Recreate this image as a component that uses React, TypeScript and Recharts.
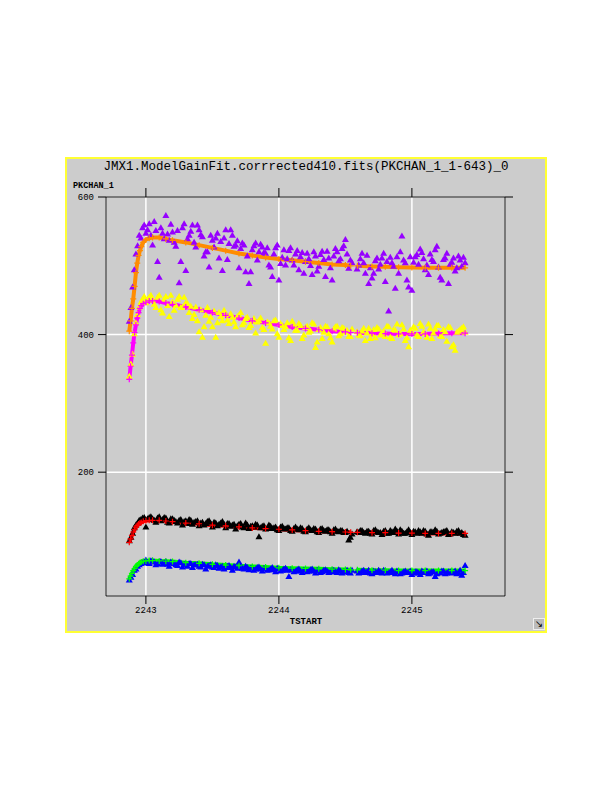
import React from 'react';
import {
  ComposedChart,
  Scatter,
  Line,
  XAxis,
  YAxis,
  CartesianGrid,
} from 'recharts';

// sample times of the measured points, first pass (gap at 2244.575)
const scatterT = [
  2242.875, 2242.9, 2242.925, 2242.95, 2242.975, 2243.0, 2243.025, 2243.05, 2243.075, 2243.1,
  2243.125, 2243.15, 2243.175, 2243.2, 2243.225, 2243.25, 2243.275, 2243.3, 2243.325, 2243.35,
  2243.375, 2243.4, 2243.425, 2243.45, 2243.475, 2243.5, 2243.525, 2243.55, 2243.575, 2243.6,
  2243.625, 2243.65, 2243.675, 2243.7, 2243.725, 2243.75, 2243.775, 2243.8, 2243.825, 2243.85,
  2243.875, 2243.9, 2243.925, 2243.95, 2243.975, 2244.0, 2244.025, 2244.05, 2244.075, 2244.1,
  2244.125, 2244.15, 2244.175, 2244.2, 2244.225, 2244.25, 2244.275, 2244.3, 2244.325, 2244.35,
  2244.375, 2244.4, 2244.425, 2244.45, 2244.475, 2244.5, 2244.525, 2244.55, 2244.6, 2244.625,
  2244.65, 2244.675, 2244.7, 2244.725, 2244.75, 2244.775, 2244.8, 2244.825, 2244.85, 2244.875,
  2244.9, 2244.925, 2244.95, 2244.975, 2245.0, 2245.025, 2245.05, 2245.075, 2245.1, 2245.125,
  2245.15, 2245.175, 2245.2, 2245.225, 2245.25, 2245.275, 2245.3, 2245.325, 2245.35, 2245.375,
  2245.4,
];

// second pass, in between (gap at 2244.5625)
const scatterT2 = [
  2242.8875, 2242.9125, 2242.9375, 2242.9625, 2242.9875, 2243.0125, 2243.0375, 2243.0625, 2243.0875, 2243.1125,
  2243.1375, 2243.1625, 2243.1875, 2243.2125, 2243.2375, 2243.2625, 2243.2875, 2243.3125, 2243.3375, 2243.3625,
  2243.3875, 2243.4125, 2243.4375, 2243.4625, 2243.4875, 2243.5125, 2243.5375, 2243.5625, 2243.5875, 2243.6125,
  2243.6375, 2243.6625, 2243.6875, 2243.7125, 2243.7375, 2243.7625, 2243.7875, 2243.8125, 2243.8375, 2243.8625,
  2243.8875, 2243.9125, 2243.9375, 2243.9625, 2243.9875, 2244.0125, 2244.0375, 2244.0625, 2244.0875, 2244.1125,
  2244.1375, 2244.1625, 2244.1875, 2244.2125, 2244.2375, 2244.2625, 2244.2875, 2244.3125, 2244.3375, 2244.3625,
  2244.3875, 2244.4125, 2244.4375, 2244.4625, 2244.4875, 2244.5125, 2244.5375, 2244.5875, 2244.6125, 2244.6375,
  2244.6625, 2244.6875, 2244.7125, 2244.7375, 2244.7625, 2244.7875, 2244.8125, 2244.8375, 2244.8625, 2244.8875,
  2244.9125, 2244.9375, 2244.9625, 2244.9875, 2245.0125, 2245.0375, 2245.0625, 2245.0875, 2245.1125, 2245.1375,
  2245.1625, 2245.1875, 2245.2125, 2245.2375, 2245.2625, 2245.2875, 2245.3125, 2245.3375, 2245.3625, 2245.3875,
];

const purple = [
  420, 470, 518, 545, 556, 548, 562, 531, 552, 484,
  548, 574, 538, 550, 529, 476, 556, 494, 545, 560,
  528, 553, 543, 521, 499, 538, 541, 512, 494, 553,
  533, 545, 531, 498, 534, 492, 475, 524, 534, 521,
  528, 519, 502, 485, 527, 480, 513, 502, 523, 509,
  518, 495, 520, 507, 511, 488, 515, 500, 522, 485,
  512, 480, 526, 508, 526, 539, 497, 505, 502, 519,
  490, 475, 483, 508, 496, 512, 478, 435, 505, 468,
  490, 544, 505, 470, 465, 514, 503, 520, 495, 488,
  510, 524, 499, 480, 512, 475, 506, 493, 515, 500,
  505,
];
const purple2 = [
  440, 495, 530, 541, 560, 553, 545, 565, 507, 556,
  540, 547, 561, 535, 552, 507, 562, 540, 551, 535,
  560, 546, 515, 521, 545, 528, 548, 536, 541, 510,
  553, 529, 537, 526, 531, 515, 492, 530, 509, 532,
  520, 527, 499, 518, 531, 504, 524, 511, 527, 502,
  523, 514, 490, 519, 501, 521, 493, 517, 510, 522,
  498, 515, 521, 511, 530, 518, 509, 496, 511, 505,
  516, 498, 490, 512, 503, 519, 507, 513, 500, 514,
  521, 509, 480, 514, 506, 517, 525, 511, 502, 518,
  507, 529, 484, 510, 519, 503, 512, 498, 509, 513,
];

const yellow = [
  340, 372, 418, 441, 452, 447, 455, 451, 440, 458,
  432, 456, 427, 448, 443, 456, 441, 447, 433, 424,
  441, 405, 397, 429, 420, 412, 397, 433, 421, 430,
  417, 426, 412, 429, 415, 424, 411, 420, 403, 421,
  411, 388, 418, 409, 422, 397, 414, 412, 396, 420,
  407, 417, 395, 411, 404, 418, 382, 408, 395, 413,
  402, 390, 412, 399, 411, 404, 398, 409, 400, 406,
  392, 410, 401, 396, 409, 403, 398, 412, 395, 407,
  400, 415, 392, 383, 404, 410, 398, 413, 402, 416,
  395, 409, 414, 398, 405, 412, 383, 378, 406, 410,
  404,
];
const yellow2 = [
  358, 402, 430, 448, 456, 452, 458, 445, 455, 437,
  452, 443, 458, 436, 452, 440, 455, 446, 442, 430,
  421, 437, 412, 440, 426, 435, 418, 427, 436, 422,
  431, 419, 427, 433, 418, 426, 414, 424, 419, 425,
  408, 419, 413, 421, 402, 417, 408, 418, 392, 415,
  407, 414, 400, 413, 406, 416, 390, 411, 404, 412,
  396, 409, 413, 402, 410, 407, 398, 405, 399, 410,
  403, 395, 408, 411, 400, 406, 413, 397, 408, 416,
  402, 409, 396, 407, 412, 400, 417, 405, 397, 410,
  403, 414, 399, 408, 391, 411, 386, 404, 408, 412,
];

const black = [
  101, 112, 124, 131, 134, 121, 135, 133, 128, 136,
  132, 134, 127, 133, 129, 131, 124, 130, 132, 125,
  129, 123, 128, 126, 130, 121, 127, 125, 129, 120,
  126, 124, 118, 125, 121, 127, 119, 123, 125, 107,
  122, 118, 124, 119, 121, 116, 122, 118, 120, 115,
  121, 117, 119, 114, 120, 116, 118, 113, 119, 115,
  117, 112, 118, 114, 116, 113, 102, 111, 113, 116,
  112, 115, 111, 117, 113, 110, 116, 112, 114, 118,
  111, 115, 112, 117, 110, 114, 116, 112, 115, 109,
  114, 117, 111, 113, 115, 110, 114, 112, 116, 113,
  109,
];
const black2 = [
  106, 120, 127, 132, 135, 133, 136, 131, 134, 130,
  135, 128, 133, 131, 127, 132, 129, 126, 131, 128,
  130, 127, 124, 129, 126, 128, 123, 127, 125, 126,
  122, 125, 123, 126, 120, 124, 122, 121, 124, 120,
  123, 119, 122, 120, 117, 121, 119, 120, 116, 119,
  118, 120, 115, 118, 117, 119, 114, 118, 116, 117,
  114, 117, 115, 116, 113, 115, 106, 114, 116, 113,
  115, 112, 116, 114, 113, 115, 112, 116, 113, 115,
  117, 112, 114, 113, 115, 112, 114, 116, 111, 114,
  113, 115, 112, 114, 116, 111, 113, 115, 112, 110,
];

const blue = [
  44, 52, 60, 66, 69, 73, 68, 72, 66, 70,
  67, 71, 64, 69, 66, 70, 63, 67, 68, 62,
  66, 64, 67, 60, 65, 63, 66, 61, 64, 62,
  65, 58, 63, 70, 61, 64, 59, 62, 60, 63,
  57, 61, 59, 62, 56, 60, 58, 61, 49, 59,
  57, 60, 55, 59, 57, 60, 54, 58, 56, 59,
  55, 58, 56, 59, 54, 57, 55, 58, 54, 57,
  55, 58, 53, 56, 58, 54, 57, 55, 58, 53,
  56, 54, 57, 55, 52, 56, 54, 57, 55, 53,
  56, 49, 54, 57, 53, 56, 54, 57, 55, 51,
  65,
];
const blue2 = [
  48, 58, 64, 68, 70, 69, 72, 70, 68, 71,
  69, 67, 70, 68, 65, 69, 67, 64, 68, 66,
  67, 63, 66, 64, 66, 62, 65, 63, 60, 64,
  62, 64, 61, 63, 60, 62, 61, 58, 62, 60,
  61, 58, 60, 59, 61, 57, 60, 58, 59, 56,
  59, 57, 58, 56, 59, 57, 58, 55, 58, 57,
  56, 58, 55, 57, 56, 58, 54, 57, 55, 58,
  56, 54, 57, 55, 56, 58, 54, 56, 55, 57,
  53, 56, 55, 57, 54, 56, 52, 55, 57, 54,
  56, 53, 55, 57, 54, 56, 55, 53, 58, 55,
];

// model gain fit curves (null = gap in the data)
const fitT = [
  2242.875, 2242.885, 2242.895, 2242.905, 2242.915, 2242.925, 2242.935, 2242.945, 2242.955, 2242.965,
  2242.98, 2243.0, 2243.025, 2243.05, 2243.1, 2243.15, 2243.2, 2243.3, 2243.4, 2243.5,
  2243.6, 2243.7, 2243.8, 2243.9, 2244.0, 2244.1, 2244.2, 2244.3, 2244.4, 2244.5,
  2244.54, 2244.565, 2244.59, 2244.7, 2244.8, 2244.9, 2245.0, 2245.1, 2245.2, 2245.3,
  2245.4,
];

const orangeFit = [
  405, 420, 438, 452, 470, 490, 504, 515, 522, 528,
  534, 538, 540, 541, 541, 539, 537, 534, 530, 526,
  522, 518, 515, 512, 510, 508, 506, 504, 502, 501,
  500, null, 500, 499, 498.5, 498, 497.5, 497, 497, 497,
  497,
];

const magentaFit = [
  335, 354, 370, 388, 403, 414, 424, 432, 438, 442,
  445, 447, 449, 449, 448, 446, 444, 440, 436, 432,
  428, 424, 420, 417, 414, 411, 409, 407, 405, 404,
  403, null, 402.5, 402, 401.5, 401, 401, 401, 401.5, 402,
  402,
];

const redFit = [
  98, 103, 108, 113, 117, 120, 122.5, 124.5, 126, 127,
  128.5, 129.5, 130, 130, 130, 129, 128, 126, 125, 123,
  122, 120.5, 119, 118, 117, 116, 115, 114, 113.5, 113,
  112.5, null, 112.5, 112, 112, 111.5, 111.5, 111, 111, 111,
  111,
];

const greenFit = [
  45, 49, 53, 57, 60, 63, 65, 67, 68.5, 69.5,
  70.5, 71, 71.5, 71.5, 71, 70.5, 70, 68.5, 67.5, 66,
  65, 64, 63, 62, 61, 60.5, 60, 59.5, 59, 58.5,
  58, null, 58, 57.5, 57.5, 57, 57, 57, 57, 57,
  57,
];

const xTicks = [2243, 2244, 2245];
const yTicks = [200, 400, 600];

const scatterPts = (a: number[], b: number[]) => [
  ...scatterT.map((t, i) => ({ t, v: a[i] })),
  ...scatterT2.map((t, i) => ({ t, v: b[i] })),
];
const fitPts = (vals: (number | null)[]) => fitT.map((t, i) => ({ t, v: vals[i] }));

const triangle = (color: string) => (p: any) => {
  const { cx, cy } = p;
  if (cx == null || cy == null) return <g />;
  return (
    <path
      d={`M${cx},${cy - 3}L${cx + 3.5},${cy + 3}L${cx - 3.5},${cy + 3}Z`}
      fill={color}
    />
  );
};

const plus = (color: string) => (p: any) => {
  const { cx, cy, index, value } = p;
  if (cx == null || cy == null || value == null) return <g key={`d${index}`} />;
  return (
    <path
      key={`d${index}`}
      d={`M${cx - 3},${cy}H${cx + 3}M${cx},${cy - 3}V${cy + 3}`}
      stroke={color}
      strokeWidth={1.2}
    />
  );
};

const mono = '"Liberation Mono", "DejaVu Sans Mono", monospace';
const tickStyle = { fontSize: 9, fontFamily: mono, fill: '#000' };

export default function App() {
  return (
    <div style={{ position: 'absolute', left: 0, top: 0, width: 612, height: 792, background: '#fff' }}>
      <div
        style={{
          position: 'absolute',
          left: 65,
          top: 157,
          width: 478,
          height: 472,
          background: '#cccccc',
          border: '2px solid #ffff33',
        }}
      >
        <div
          style={{
            position: 'absolute',
            left: 0,
            top: 1,
            width: 478,
            textAlign: 'center',
            fontFamily: mono,
            fontSize: 12.5,
            lineHeight: '15px',
            color: '#000',
          }}
        >
          JMX1.ModelGainFit.corrrected410.fits(PKCHAN_1_1-643)_0
        </div>
        <div
          style={{
            position: 'absolute',
            left: 6,
            top: 22,
            fontFamily: mono,
            fontSize: 8.5,
            fontWeight: 'bold',
            lineHeight: '10px',
            color: '#000',
          }}
        >
          PKCHAN_1
        </div>
        <div
          style={{
            position: 'absolute',
            left: 0,
            top: 458,
            width: 478,
            textAlign: 'center',
            fontFamily: mono,
            fontSize: 9,
            fontWeight: 'bold',
            lineHeight: '10px',
            color: '#000',
          }}
        >
          TSTART
        </div>
        <div
          style={{
            position: 'absolute',
            left: 466,
            top: 459,
            width: 10,
            height: 10,
            background: '#bbbbbb',
            border: '1px solid #eeeeee',
            fontSize: 10,
            lineHeight: '10px',
            textAlign: 'center',
            fontFamily: '"DejaVu Sans", sans-serif',
            color: '#000',
          }}
        >
          ↘
        </div>

        <div style={{ position: 'absolute', left: 0, top: 0 }}>
          <ComposedChart width={478} height={472} margin={{ top: 0, right: 0, left: 0, bottom: 0 }}>
            <CartesianGrid stroke="#ffffff" strokeWidth={1.5} />
            <XAxis
              xAxisId={0}
              dataKey="t"
              type="number"
              domain={[2242.7, 2245.7]}
              ticks={xTicks}
              allowDataOverflow
              height={35}
              tickSize={8}
              tickMargin={3}
              tick={tickStyle}
              axisLine={{ stroke: '#000' }}
              tickLine={{ stroke: '#000' }}
            />
            <XAxis
              xAxisId="top"
              orientation="top"
              dataKey="t"
              type="number"
              domain={[2242.7, 2245.7]}
              ticks={xTicks}
              allowDataOverflow
              height={38}
              tickSize={9}
              tickFormatter={() => ''}
              axisLine={{ stroke: '#000' }}
              tickLine={{ stroke: '#000' }}
            />
            <YAxis
              yAxisId={0}
              dataKey="v"
              type="number"
              domain={[20, 600]}
              ticks={yTicks}
              allowDataOverflow
              width={39}
              tickSize={8}
              tickMargin={4}
              tick={tickStyle}
              axisLine={{ stroke: '#000' }}
              tickLine={{ stroke: '#000' }}
            />
            <YAxis
              yAxisId="right"
              orientation="right"
              dataKey="v"
              type="number"
              domain={[20, 600]}
              ticks={yTicks}
              allowDataOverflow
              width={40}
              tickSize={8}
              tickFormatter={() => ''}
              axisLine={{ stroke: '#000' }}
              tickLine={{ stroke: '#000' }}
            />

            <Scatter data={scatterPts(purple, purple2)} shape={triangle('#9600ff')} isAnimationActive={false} />
            <Scatter data={scatterPts(yellow, yellow2)} shape={triangle('#ffff00')} isAnimationActive={false} />
            <Scatter data={scatterPts(black, black2)} shape={triangle('#000000')} isAnimationActive={false} />
            <Scatter data={scatterPts(blue, blue2)} shape={triangle('#0000ff')} isAnimationActive={false} />

            <Line data={fitPts(orangeFit)} dataKey="v" type="linear" stroke="#ff8c00" strokeWidth={4} dot={plus('#ff8c00')} activeDot={false} connectNulls={false} isAnimationActive={false} />
            <Line data={fitPts(magentaFit)} dataKey="v" type="linear" stroke="#ff00ff" strokeWidth={4} dot={plus('#ff00ff')} activeDot={false} connectNulls={false} isAnimationActive={false} />
            <Line data={fitPts(redFit)} dataKey="v" type="linear" stroke="#ff0000" strokeWidth={4} dot={plus('#ff0000')} activeDot={false} connectNulls={false} isAnimationActive={false} />
            <Line data={fitPts(greenFit)} dataKey="v" type="linear" stroke="#00ff00" strokeWidth={4} dot={plus('#00ff00')} activeDot={false} connectNulls={false} isAnimationActive={false} />
          </ComposedChart>
        </div>
      </div>
    </div>
  );
}
